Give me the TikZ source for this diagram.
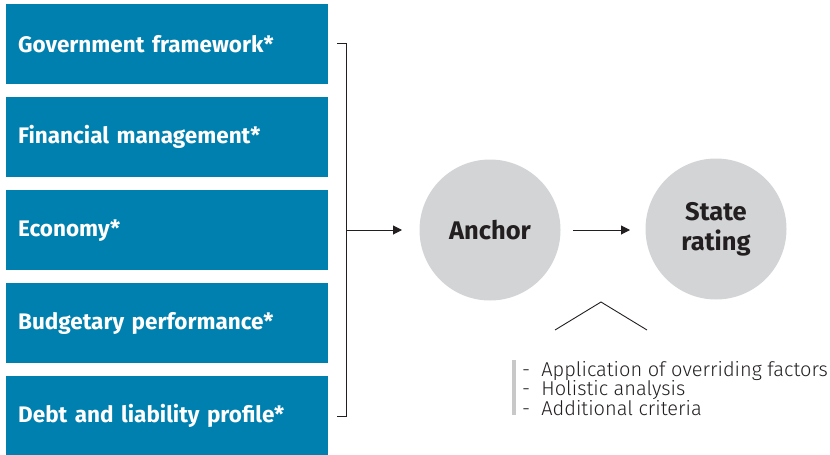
\documentclass[tikz,border=0pt]{standalone}
\usepackage{fontspec}
\setmainfont{Fira Sans}
\newfontfamily\lightfont{Fira Sans Light}
\usetikzlibrary{arrows.meta}
\definecolor{boxblue}{HTML}{0080AF}
\definecolor{circgrey}{HTML}{D3D4D6}
\definecolor{bargrey}{HTML}{C8C8C8}
\definecolor{inkdark}{HTML}{231F20}
\tikzset{
	factor/.style={fill=boxblue, text=white, anchor=north west, inner xsep=12pt, inner ysep=0pt,
		text width=298pt, minimum height=80pt, align=left, font=\bfseries\fontsize{22.5}{26}\selectfont},
	stage/.style={circle, fill=circgrey, minimum size=141pt, inner sep=0pt, align=center,
		text=inkdark, font=\bfseries\fontsize{25.5}{30}\selectfont},
	flow/.style={-{Triangle[length=9pt,width=9pt]}, line width=1pt, inkdark}
}
\begin{document}
\begin{tikzpicture}[x=1pt,y=-1pt]
	\useasboundingbox (0,0) rectangle (830,455);
	% Faktoren
	\foreach \i/\y/\t in {1/4/Government framework*, 2/97/Financial management*, 3/190/Economy*,
		4/283/Budgetary performance*, 5/376/Debt and liability profile*}
		\node[factor] (f\i) at (6,\y) {\t};
	% Klammer
	\coordinate (btop) at (346,43);
	\coordinate (bbot) at (346,416);
	\coordinate (bmid) at (346,230);
	\draw[line width=1pt, inkdark] (337,43) -- (btop) -- (bbot) -- (337,416);
	% Stufen
	\node[stage] (anc) at (490,230) {Anchor};
	\node[stage] (rating) at (716,229) {State\\rating};
	\draw[flow] (bmid) -- (402,230);
	\draw[flow] (573,230) -- (630,230);
	% Dach
	\draw[line width=0.9pt, inkdark] (555,330) -- (601,302) -- (647,330);
	% Anpassungen
	\node[anchor=west, align=left, inner sep=0pt, text=inkdark,
		font=\lightfont\fontsize{20}{19.5}\selectfont] (notes) at (522,388.5)
		{- \ Application of overriding factors\\- \ Holistic analysis\\- \ Additional criteria};
	\draw[line width=4pt, bargrey] (514,360) -- (514,415);
\end{tikzpicture}
\end{document}
